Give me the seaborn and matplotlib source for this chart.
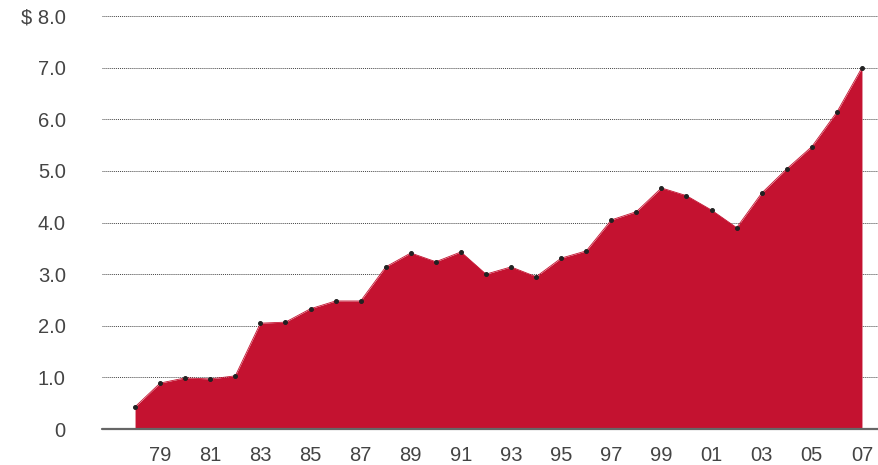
import matplotlib
matplotlib.use("Agg")
import matplotlib.pyplot as plt
import seaborn as sns
import pandas as pd

# --- Data ---
years = list(range(1978, 2008))
values = [0.43, 0.89, 0.99, 0.97, 1.03, 2.05, 2.07, 2.33, 2.48, 2.48,
          3.14, 3.41, 3.24, 3.43, 3.00, 3.14, 2.95, 3.31, 3.45, 4.05,
          4.21, 4.67, 4.52, 4.24, 3.90, 4.57, 5.04, 5.47, 6.14, 7.00]
y_ticks = [0, 1, 2, 3, 4, 5, 6, 7, 8]
y_labels = ["0", "1.0", "2.0", "3.0", "4.0", "5.0", "6.0", "7.0", "$ 8.0"]

df = pd.DataFrame({"Year": years, "Value": values})

# --- Plotting ---
sns.set_style("white")
plt.rcParams['font.family'] = ['Liberation Sans', 'DejaVu Sans']

fig = plt.figure(figsize=(8.79, 4.65), dpi=100)
ax = fig.add_axes([0.116, 0.0774, 0.884, 0.8882])

red = "#C41230"
ax.fill_between(df["Year"], df["Value"], 0, color=red, linewidth=0, zorder=2)
sns.lineplot(data=df, x="Year", y="Value", ax=ax, color=red, linewidth=0.6,
             marker="o", markersize=2.8, markerfacecolor="#222222",
             markeredgecolor="#222222", zorder=3)

ax.set_xlim(1976.68, 2007.68)
ax.set_ylim(0, 8)

# gridlines
ax.set_yticks(y_ticks)
ax.set_yticklabels(y_labels)
for y in y_ticks[1:]:
    ax.axhline(y, color="#444444", linestyle=(0, (1, 1)), linewidth=0.7, zorder=1)
ax.axhline(0, color="#666666", linewidth=1.6, zorder=4, clip_on=False)

odd_years = [y for y in years if y % 2 == 1]
ax.set_xticks(odd_years)
ax.set_xticklabels([str(y)[2:] for y in odd_years])
ax.set_xticks(years, minor=True)

for s in ["top", "right", "left", "bottom"]:
    ax.spines[s].set_visible(False)

ax.tick_params(axis="y", length=0, pad=26, labelsize=14.5, labelcolor="#444444")
ax.tick_params(axis="x", which="both", direction="out", length=4, width=0.8,
               color="#666666", pad=8, labelsize=14.5, labelcolor="#444444")
ax.set_xlabel("")
ax.set_ylabel("")

fig.savefig("out.png", dpi=100)
